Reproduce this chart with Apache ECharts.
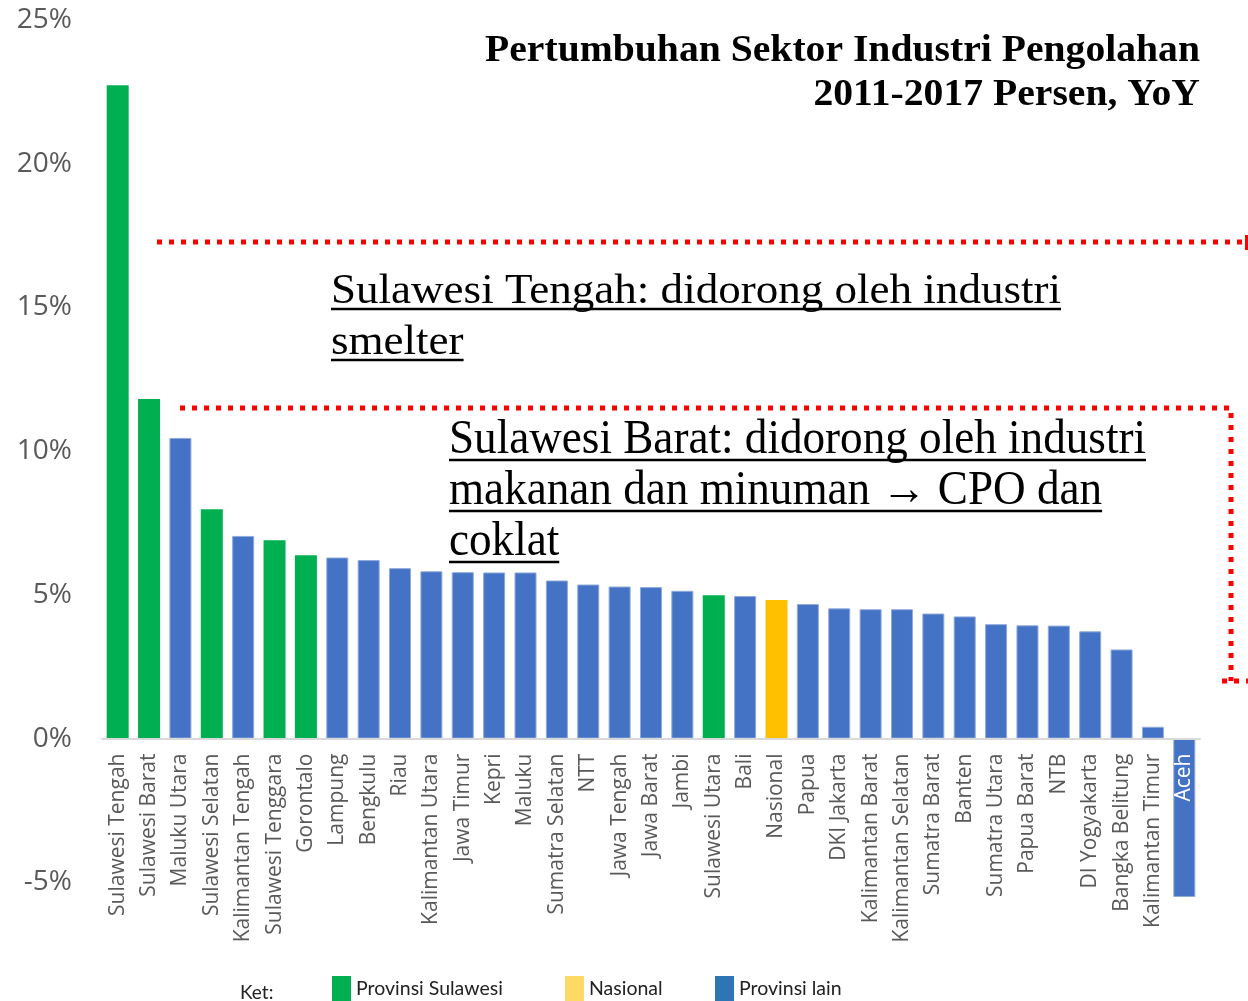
<!DOCTYPE html>
<html>
<head>
<meta charset="utf-8">
<script src="https://cdn.jsdelivr.net/npm/echarts@6/dist/echarts.min.js"></script>
<style>
  html, body { margin: 0; padding: 0; background: #fff; }
  #chart { width: 1248px; height: 1001px; }
</style>
</head>
<body>
<div id="chart"></div>
<script>
// data
const provinces = [
  'Sulawesi Tengah', 'Sulawesi Barat', 'Maluku Utara', 'Sulawesi Selatan', 'Kalimantan Tengah',
  'Sulawesi Tenggara', 'Gorontalo', 'Lampung', 'Bengkulu', 'Riau',
  'Kalimantan Utara', 'Jawa Timur', 'Kepri', 'Maluku', 'Sumatra Selatan',
  'NTT', 'Jawa Tengah', 'Jawa Barat', 'Jambi', 'Sulawesi Utara',
  'Bali', 'Nasional', 'Papua', 'DKI Jakarta', 'Kalimantan Barat',
  'Kalimantan Selatan', 'Sumatra Barat', 'Banten', 'Sumatra Utara', 'Papua Barat',
  'NTB', 'DI Yogyakarta', 'Bangka Belitung', 'Kalimantan Timur', 'Aceh'
]
const growth = [
  22.73, 11.81, 10.46, 7.98, 7.05,
  6.90, 6.38, 6.30, 6.21, 5.93,
  5.82, 5.79, 5.78, 5.78, 5.50,
  5.36, 5.29, 5.27, 5.14, 4.99,
  4.96, 4.82, 4.68, 4.53, 4.50,
  4.50, 4.35, 4.25, 3.98, 3.94,
  3.93, 3.73, 3.10, 0.41, -5.51
]
// 0 = Provinsi Sulawesi, 1 = Nasional, 2 = Provinsi lain
const groupOf = [
  0, 0, 2, 0, 2,
  0, 0, 2, 2, 2,
  2, 2, 2, 2, 2,
  2, 2, 2, 2, 0,
  2, 1, 2, 2, 2,
  2, 2, 2, 2, 2,
  2, 2, 2, 2, 2
]
const groupNames = ['Provinsi Sulawesi', 'Nasional', 'Provinsi lain']
const barColors = ['#00B050', '#FFC000', '#4472C4']
const legendColors = ['#00B050', '#FFD966', '#2E75B6']
const yMin = -10
const yMax = 25
const yStep = 5

const titleLines = ['Pertumbuhan Sektor Industri Pengolahan', '2011-2017 Persen, YoY']
const note1Lines = ['Sulawesi Tengah: didorong oleh industri', 'smelter']
const note2Lines = ['Sulawesi Barat: didorong oleh industri', 'makanan dan minuman \u2192 CPO dan', 'coklat']

// ukuran grid
const gridTop = 20
const gridHeight = 1006
const zeroY = gridTop + gridHeight * (yMax - 0) / (yMax - yMin)
const xAxisOffset = -(gridTop + gridHeight - zeroY)

// ukur lebar teks supaya bisa diskalakan
const ctx2d = document.createElement('canvas').getContext('2d')
const measure = (text, font) => {
  ctx2d.font = font
  return ctx2d.measureText(text).width
}

// blok teks (opsional bergaris bawah), lebar baris pertama dipaskan ke targetWidth
const textBlock = ({ lines, x, baseline, lineGap, fontSize, fontFamily, fontWeight, targetWidth, align, underline }) => {
  const font = `${fontWeight} ${fontSize}px ${fontFamily}`
  const scale = targetWidth / measure(lines[0], font)
  const els = []
  lines.forEach((line, i) => {
    const y = baseline + i * lineGap
    els.push({
      type: 'text',
      x: x,
      y: y - fontSize * 0.32,
      scaleX: scale,
      style: {
        text: line,
        fontSize: fontSize,
        fontFamily: fontFamily,
        fontWeight: fontWeight,
        fill: '#000',
        align: align,
        verticalAlign: 'middle'
      }
    })
    if (underline) {
      const w = measure(line, font) * scale
      els.push({
        type: 'line',
        shape: { x1: x, y1: y + 4, x2: x + w, y2: y + 4 },
        style: { stroke: '#000', lineWidth: 2.5 }
      })
    }
  })
  return els
}

const redDots = { stroke: '#FF0000', lineWidth: 5, lineDash: [5, 7], fill: null }

const graphics = [
  ...textBlock({
    lines: titleLines, x: 1200, baseline: 63, lineGap: 44, fontSize: 37,
    fontFamily: 'Liberation Serif', fontWeight: 'bold', targetWidth: 715, align: 'right', underline: false
  }),
  ...textBlock({
    lines: note1Lines, x: 331, baseline: 305, lineGap: 51, fontSize: 43,
    fontFamily: 'Liberation Serif', fontWeight: 'normal', targetWidth: 730, align: 'left', underline: true
  }),
  ...textBlock({
    lines: note2Lines, x: 449, baseline: 456, lineGap: 51, fontSize: 48,
    fontFamily: 'Liberation Serif', fontWeight: 'normal', targetWidth: 697, align: 'left', underline: true
  }),
  {
    type: 'polyline',
    shape: { points: [[157, 242], [1244, 242]] },
    style: redDots
  },
  {
    type: 'rect',
    shape: { x: 1245, y: 235, width: 3, height: 15 },
    style: { fill: '#FF0000' }
  },
  {
    type: 'polyline',
    shape: { points: [[180, 408], [1231, 408], [1231, 681]] },
    style: redDots
  },
  {
    type: 'polyline',
    shape: { points: [[1222, 681], [1248, 681]] },
    style: redDots
  },
  {
    type: 'text',
    x: 240,
    y: 993,
    style: { text: 'Ket:', fontSize: 19, fontFamily: 'Lato', fill: '#222', verticalAlign: 'middle' }
  }
]

const series = groupNames.map((name, g) => ({
  name: name,
  type: 'bar',
  stack: 'all',
  barWidth: 22,
  data: growth.map((v, i) => (groupOf[i] === g ? v : '-')),
  itemStyle: {
    color: barColors[g],
    borderColor: g === 2 ? '#8FAADC' : barColors[g],
    borderWidth: g === 2 ? 1 : 0
  }
}))

const legendLeft = [332, 565, 715]
const legends = groupNames.map((name, g) => ({
  data: [{ name: name, itemStyle: { color: legendColors[g], borderWidth: 0 } }],
  left: legendLeft[g],
  top: 976,
  padding: 0,
  icon: 'rect',
  itemWidth: 19,
  itemHeight: 25,
  selectedMode: false,
  textStyle: { fontSize: 19.5, fontFamily: 'Lato', color: '#222' }
}))

const chart = echarts.init(document.getElementById('chart'))
chart.setOption({
  animation: false,
  backgroundColor: '#fff',
  grid: {
    left: 102,
    width: 1098,
    top: gridTop,
    height: gridHeight,
    containLabel: false,
    outerBoundsMode: 'none'
  },
  legend: legends,
  xAxis: {
    type: 'category',
    z: 10,
    position: 'bottom',
    offset: xAxisOffset,
    data: provinces.map((p, i) => (growth[i] < 0 ? { value: p, textStyle: { color: '#fff' } } : p)),
    axisTick: { show: false },
    axisLine: { onZero: false, lineStyle: { color: '#D9D9D9', width: 2 } },
    axisLabel: {
      interval: 0,
      rotate: 90,
      margin: 15,
      fontSize: 21,
      fontFamily: 'Open Sans',
      color: '#595959'
    }
  },
  yAxis: {
    type: 'value',
    min: yMin,
    max: yMax,
    interval: yStep,
    axisLine: { show: false },
    axisTick: { show: false },
    splitLine: { show: false },
    axisLabel: {
      formatter: '{value}%',
      margin: 30,
      fontSize: 28,
      fontFamily: 'Open Sans',
      color: '#595959'
    }
  },
  series: series,
  graphic: graphics
})
</script>
</body>
</html>
